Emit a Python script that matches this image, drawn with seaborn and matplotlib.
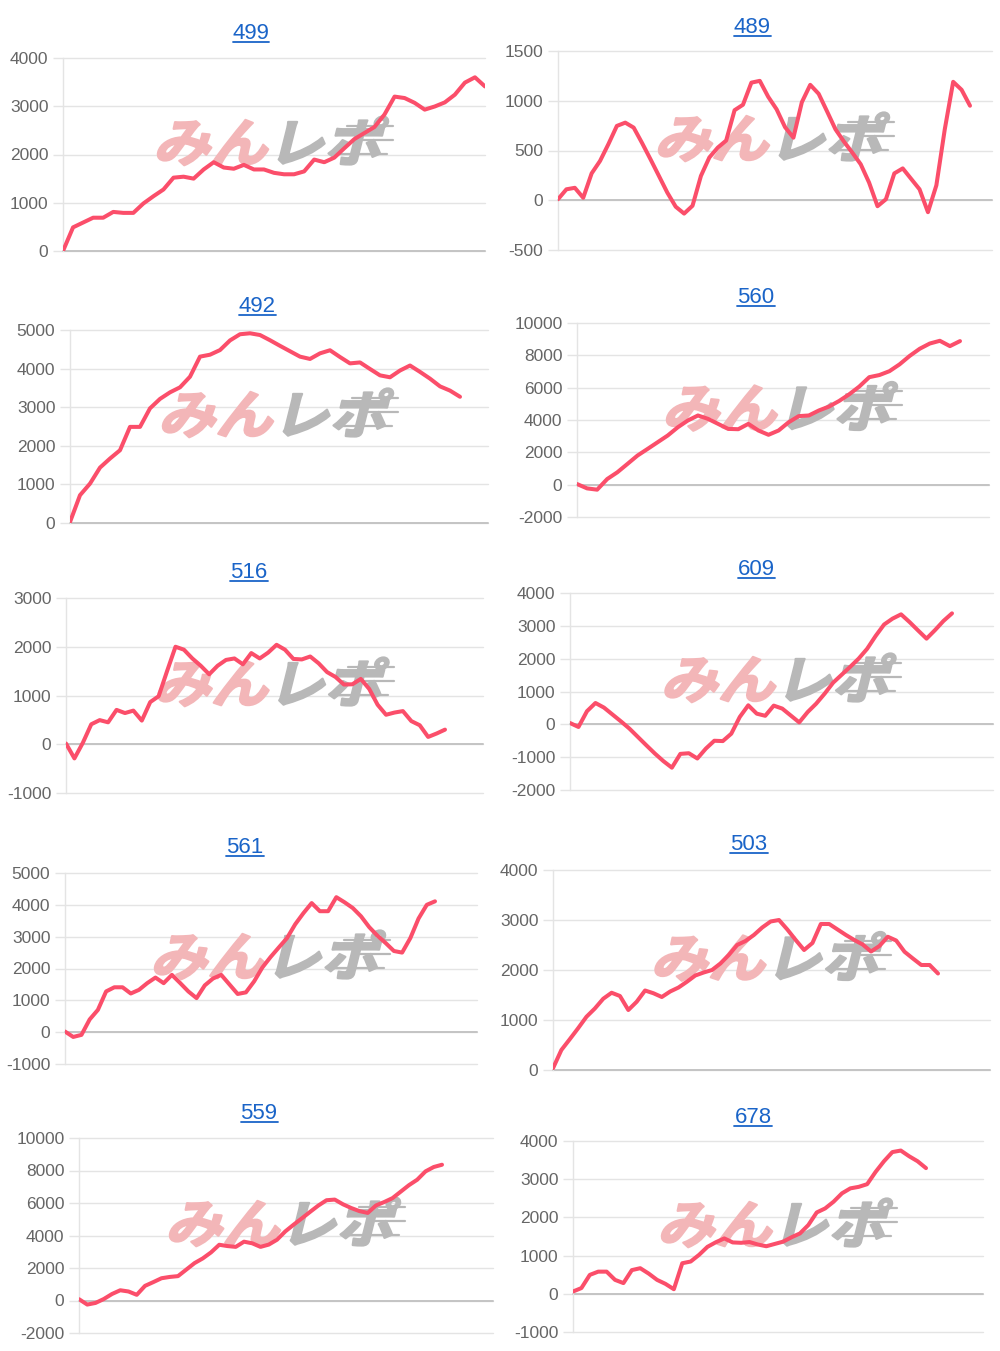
import numpy as np
import pandas as pd
import matplotlib
matplotlib.use("Agg")
import matplotlib.pyplot as plt
import seaborn as sns
from matplotlib.textpath import TextPath
from matplotlib.patches import PathPatch
from matplotlib.font_manager import FontProperties
from matplotlib.transforms import Affine2D, IdentityTransform
from matplotlib.lines import Line2D

# データ (台番号ごとの差枚推移)
titles = ["499", "489", "492", "560", "516", "609", "561", "503", "559", "678"]

s499 = [0, 490, 590, 690, 690, 810, 790, 790, 985, 1135, 1275, 1520, 1540, 1500, 1690,
        1840, 1730, 1705, 1785, 1690, 1690, 1620, 1590, 1590, 1650, 1895, 1840, 1935,
        2130, 2320, 2445, 2570, 2830, 3200, 3170, 3070, 2930, 2995, 3080, 3240, 3490,
        3600, 3410]
s489 = [10, 110, 125, 25, 270, 395, 565, 747, 780, 730, 575, 412, 245, 77, -65, -134,
        -55, 245, 430, 529, 600, 905, 960, 1182, 1200, 1040, 914, 735, 629, 985, 1160,
        1070, 893, 713, 590, 479, 362, 177, -60, 10, 270, 320, 215, 110, -120, 150, 713,
        1190, 1110, 950]
s492 = [25, 720, 1020, 1435, 1670, 1885, 2490, 2490, 2970, 3215, 3385, 3515, 3790, 4310,
        4360, 4480, 4730, 4890, 4915, 4870, 4735, 4590, 4450, 4310, 4250, 4395, 4475,
        4300, 4135, 4160, 3990, 3825, 3775, 3950, 4080, 3915, 3740, 3540, 3430, 3270]
s560 = [40, -230, -310, 350, 765, 1280, 1800, 2210, 2625, 3040, 3550, 3970, 4280, 4070,
        3760, 3450, 3430, 3760, 3350, 3085, 3350, 3860, 4240, 4280, 4590, 4830, 5175,
        5585, 6065, 6650, 6780, 7020, 7440, 7960, 8405, 8730, 8900, 8570, 8880]
s516 = [15, -290, 30, 410, 495, 450, 705, 640, 690, 485, 865, 985, 1500, 2000, 1940, 1760,
        1610, 1435, 1610, 1730, 1760, 1640, 1870, 1760, 1880, 2040, 1940, 1750, 1740,
        1800, 1660, 1480, 1380, 1225, 1230, 1340, 1135, 810, 605, 650, 680, 475, 390,
        150, 220, 300]
s609 = [40, -80, 400, 650, 510, 300, 90, -130, -385, -640, -890, -1120, -1320, -900, -880,
        -1040, -740, -500, -510, -285, 225, 580, 325, 260, 570, 480, 270, 60, 375, 630,
        935, 1270, 1510, 1750, 2000, 2300, 2690, 3040, 3220, 3350, 3115, 2860, 2610,
        2870, 3150, 3380]
s561 = [20, -150, -85, 400, 700, 1280, 1410, 1410, 1215, 1330, 1540, 1715, 1540, 1800,
        1545, 1280, 1070, 1470, 1685, 1800, 1500, 1200, 1250, 1595, 2030, 2360, 2660,
        2955, 3390, 3740, 4055, 3800, 3800, 4240, 4080, 3900, 3640, 3300, 3030, 2800,
        2550, 2500, 2955, 3570, 4000, 4110]
s503 = [35, 400, 615, 835, 1065, 1230, 1425, 1545, 1480, 1200, 1365, 1590, 1535, 1460,
        1570, 1650, 1765, 1890, 1950, 2000, 2130, 2300, 2500, 2580, 2700, 2850, 2970,
        3000, 2810, 2600, 2400, 2540, 2920, 2920, 2810, 2700, 2600, 2510, 2370, 2480,
        2665, 2590, 2365, 2230, 2100, 2100, 1930]
s559 = [80, -250, -150, 90, 400, 630, 555, 350, 900, 1130, 1370, 1450, 1500, 1900, 2300,
        2590, 2960, 3430, 3350, 3300, 3620, 3520, 3300, 3440, 3740, 4250, 4660, 5050,
        5450, 5840, 6170, 6210, 5920, 5690, 5500, 5390, 5850, 6060, 6300, 6700, 7100,
        7435, 7945, 8215, 8355]
s678 = [60, 150, 495, 580, 580, 365, 280, 620, 670, 530, 365, 260, 120, 800, 845, 1020,
        1230, 1350, 1450, 1345, 1335, 1355, 1290, 1245, 1305, 1365, 1480, 1580, 1800,
        2130, 2235, 2410, 2630, 2760, 2800, 2870, 3190, 3470, 3710, 3750, 3600, 3470,
        3290]
series = [s499, s489, s492, s560, s516, s609, s561, s503, s559, s678]

# y軸目盛 (最小, 最大, 間隔)
y_ticks = [(0, 4000, 1000), (-500, 1500, 500), (0, 5000, 1000), (-2000, 10000, 2000),
           (-1000, 3000, 1000), (-2000, 4000, 1000), (-1000, 5000, 1000), (0, 4000, 1000),
           (-2000, 10000, 2000), (-1000, 4000, 1000)]

# レイアウト (画像ピクセル: 左, 上, 右, 下)
W, H = 1000, 1351
boxes = [(63, 58, 485, 251), (558, 51, 992, 250), (70, 330, 488, 523),
         (577, 323, 989, 517), (66, 598, 483, 793), (570, 593, 993, 790),
         (65, 873, 477, 1064), (553, 870, 990, 1070), (79, 1138, 493, 1333),
         (573, 1141, 983, 1332)]
line_end = [485, 970, 460, 960, 445, 952, 435, 938, 442, 926]
title_pos = [(251, 39), (752, 33), (257, 312), (756, 303), (249, 578), (756, 575),
             (245, 853), (749, 850), (259, 1119), (753, 1123)]

sns.set_style("white")
plt.rcParams["font.family"] = ["Liberation Sans", "DejaVu Sans"]
plt.rcParams["axes.unicode_minus"] = False

LINE = "#fb4e6a"
GRID = "#e4e4e4"
fp_wm = FontProperties(family="Noto Sans CJK JP", weight="bold")


def watermark(ax, cx, cy):
    # みんレポのロゴっぽい透かし (cx, cy は表示座標)
    parts = [("みん", "#f3b6b8", -122), ("レポ", "#b8b8b8", -8)]
    for txt, col, dx in parts:
        tp = TextPath((0, 0), txt, size=52, prop=fp_wm)
        tr = Affine2D().scale(1.1, 1.0).skew_deg(14, 0).translate(cx + dx, cy - 19)
        ax.add_patch(PathPatch(tr.transform_path(tp), transform=IdentityTransform(),
                               fc=col, ec=col, lw=1.6, joinstyle="round",
                               zorder=1, clip_on=False))
    for dy, x0, x1 in [(17, 72, 118), (3, 88, 118), (-11, 62, 112)]:
        ax.add_line(Line2D([cx + x0, cx + x1], [cy + dy, cy + dy], color="#b8b8b8",
                           lw=1.6, transform=IdentityTransform(), zorder=1, clip_on=False))


fig = plt.figure(figsize=(W / 100, H / 100), dpi=100)
fig.patch.set_facecolor("white")

title_objs = []
for i, vals in enumerate(series):
    l, t, r, b = boxes[i]
    ax = fig.add_axes([l / W, (H - b) / H, (r - l) / W, (b - t) / H])
    ax.set_facecolor("none")
    n = len(vals)
    df = pd.DataFrame({"game": np.arange(n), "diff": vals})
    sns.lineplot(data=df, x="game", y="diff", ax=ax, color=LINE, linewidth=2.9, zorder=3)
    frac = (line_end[i] - l) / (r - l)
    ax.set_xlim(0, (n - 1) / frac)
    lo, hi, step = y_ticks[i]
    ax.set_ylim(lo, hi)
    ticks = list(range(lo, hi + 1, step))
    ax.set_yticks(ticks)
    ax.set_yticklabels([str(v) for v in ticks])
    ax.set_xticks([])
    ax.set_xlabel("")
    ax.set_ylabel("")
    for ytk in ticks:
        ax.axhline(ytk, color=GRID, lw=1, zorder=0.5, clip_on=False)
    ax.axhline(0, color="#c4c4c4", lw=1.4, zorder=0.6, clip_on=False)
    for s in ["top", "right", "bottom"]:
        ax.spines[s].set_visible(False)
    ax.spines["left"].set_color(GRID)
    ax.spines["left"].set_linewidth(1)
    ax.tick_params(axis="y", left=True, length=7, width=1, color=GRID, pad=3.5,
                   labelsize=12.5, labelcolor="#666666")

    cx = (l + r) / 2 + 1
    cy = H - ((t + b) / 2 - 12)
    watermark(ax, cx, cy)

    tx, tb = title_pos[i]
    tobj = fig.text(tx / W, (H - tb) / H, titles[i], ha="center", va="baseline",
                    fontsize=16, color="#1a64c8")
    title_objs.append(tobj)

# タイトルの下線
fig.canvas.draw()
rend = fig.canvas.get_renderer()
for i, tobj in enumerate(title_objs):
    bb = tobj.get_window_extent(rend)
    yb = (H - title_pos[i][1] - 3) / H
    fig.add_artist(Line2D([bb.x0 / W, bb.x1 / W], [yb, yb], color="#1a64c8", lw=1.3,
                          transform=fig.transFigure))

fig.savefig("out.png", dpi=100)
